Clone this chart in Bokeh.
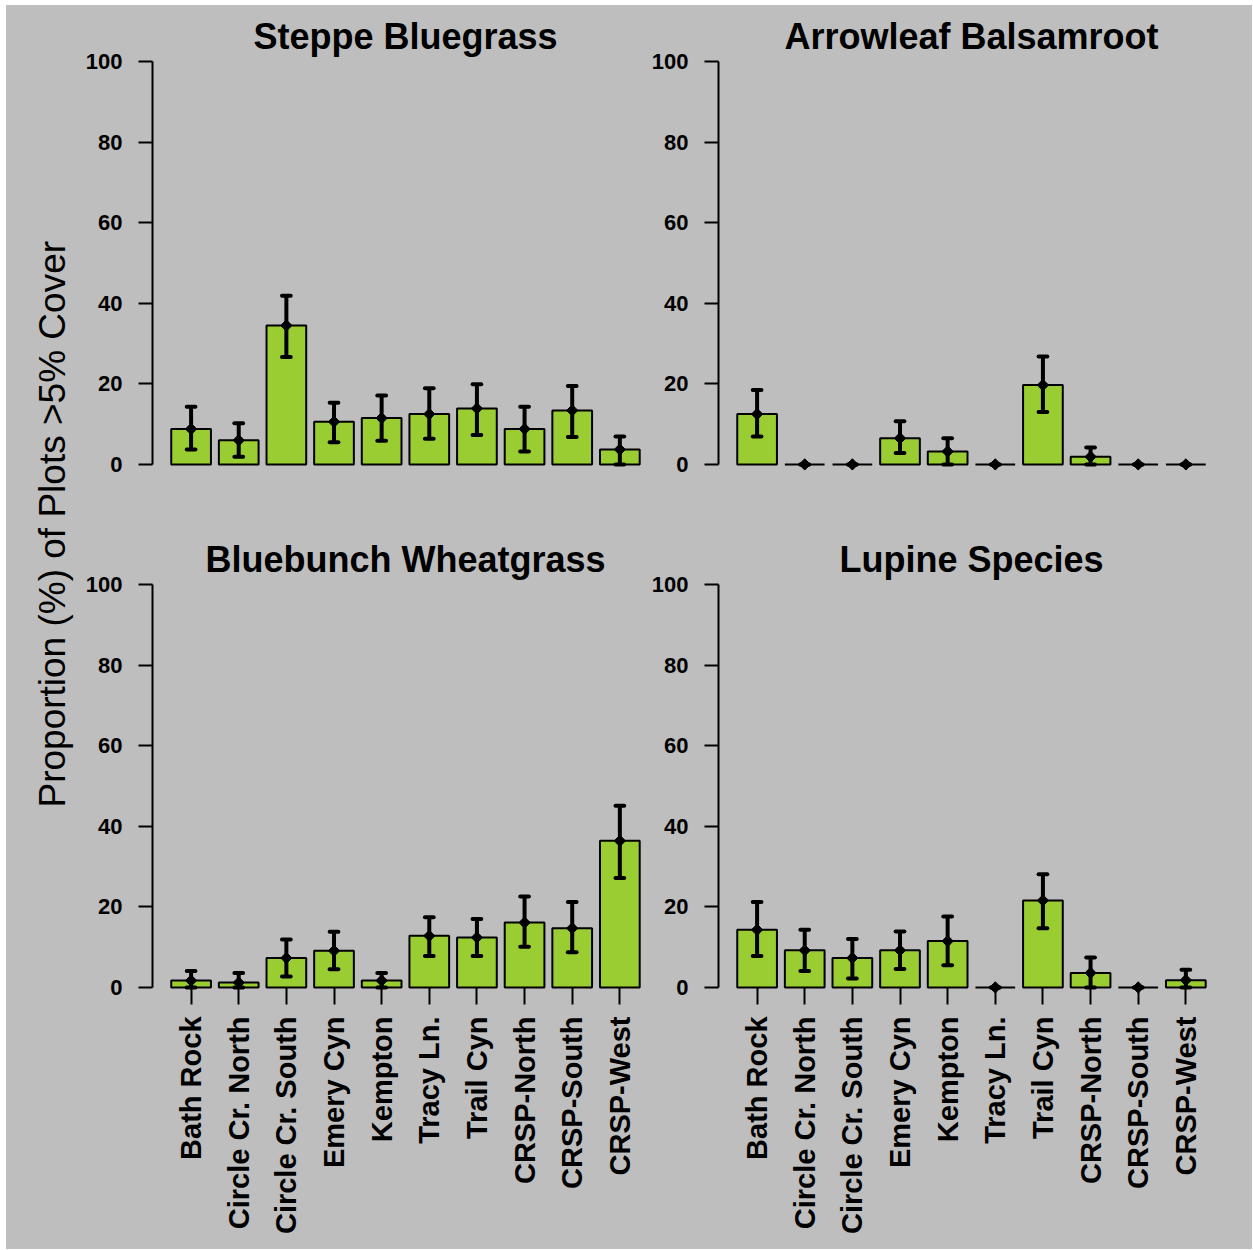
from math import pi

from bokeh.embed import file_html
from bokeh.layouts import column, row
from bokeh.models import (ColumnDataSource, FixedTicker, Label, LinearAxis,
                          Range1d)
from bokeh.plotting import figure
from bokeh.resources import INLINE

# ---------------------------------------------------------------- data
sites = ["Bath Rock", "Circle Cr. North", "Circle Cr. South", "Emery Cyn",
         "Kempton", "Tracy Ln.", "Trail Cyn", "CRSP-North", "CRSP-South",
         "CRSP-West"]

# proportion (%) of plots with >5% cover, with lower / upper interval bounds
bluegrass_mean = [8.8, 6.0, 34.5, 10.6, 11.5, 12.5, 13.9, 8.8, 13.4, 3.7]
bluegrass_lo = [3.7, 1.9, 26.7, 5.5, 5.9, 6.4, 7.3, 3.2, 6.8, 0.0]
bluegrass_hi = [14.3, 10.2, 41.9, 15.3, 17.1, 18.9, 19.9, 14.3, 19.5, 6.9]

balsamroot_mean = [12.5, 0.0, 0.0, 6.5, 3.2, 0.0, 19.7, 1.9, 0.0, 0.0]
balsamroot_lo = [6.9, 0.0, 0.0, 2.8, 0.0, 0.0, 13.0, 0.0, 0.0, 0.0]
balsamroot_hi = [18.5, 0.0, 0.0, 10.7, 6.5, 0.0, 26.8, 4.2, 0.0, 0.0]

wheatgrass_mean = [1.7, 1.2, 7.3, 9.1, 1.7, 12.8, 12.4, 16.1, 14.7, 36.4]
wheatgrass_lo = [0.0, 0.0, 2.7, 4.5, 0.0, 7.8, 7.8, 10.1, 8.7, 27.2]
wheatgrass_hi = [4.1, 3.6, 11.9, 13.8, 3.6, 17.4, 17.0, 22.6, 21.2, 45.1]

lupine_mean = [14.3, 9.2, 7.3, 9.2, 11.5, 0.0, 21.6, 3.6, 0.0, 1.8]
lupine_lo = [7.8, 4.1, 2.2, 4.6, 5.5, 0.0, 14.7, 0.0, 0.0, 0.0]
lupine_hi = [21.2, 14.3, 12.0, 13.9, 17.6, 0.0, 28.1, 7.4, 0.0, 4.4]

y_ticks = [0, 20, 40, 60, 80, 100]

# ---------------------------------------------------------------- style
BG = "#BEBEBE"
BAR = "#9ACD32"
FONT = "Liberation Sans"
BAR_WIDTH = 1.0
BAR_SPACE = 0.2
X_START = -0.272            # left edge of the bar area (4% padding)
PX_PER_X = 39.7
PX_PER_Y = 4.03
Y_LOW, Y_HIGH = -4, 112     # room below zero and above 100 for the title
TITLE_Y = 106.3
CAP_HALF = 0.11

# bar centres, barplot style: width 1 with 0.2 spacing
centers = [BAR_SPACE + BAR_WIDTH / 2 + i * (BAR_WIDTH + BAR_SPACE)
           for i in range(len(sites))]
x_mid = (X_START + (centers[-1] + BAR_WIDTH / 2 + 0.472)) / 2
FRAME_H = round((Y_HIGH - Y_LOW) * PX_PER_Y)


def panel(title, mean, lo, hi, width, height, border_left, border_top,
          show_x):
    frame_width = width - border_left
    x_end = X_START + frame_width / PX_PER_X
    p = figure(width=width, height=height, output_backend="svg",
               toolbar_location=None, x_range=Range1d(X_START, x_end),
               y_range=Range1d(Y_LOW, Y_HIGH), x_axis_location=None,
               y_axis_location=None, min_border_left=border_left,
               min_border_right=0, min_border_top=border_top,
               min_border_bottom=height - border_top - FRAME_H,
               styles={"background-color": BG})
    p.background_fill_color = BG
    p.border_fill_color = BG
    p.outline_line_color = None
    p.xgrid.visible = False
    p.ygrid.visible = False

    yaxis = LinearAxis(ticker=FixedTicker(ticks=y_ticks), bounds=(0, 100))
    yaxis.axis_line_width = 2
    yaxis.major_tick_line_width = 2
    yaxis.major_tick_out = 14
    yaxis.major_tick_in = 0
    yaxis.minor_tick_line_color = None
    yaxis.major_label_standoff = 16
    yaxis.major_label_text_font = FONT
    yaxis.major_label_text_font_style = "bold"
    yaxis.major_label_text_font_size = "22px"
    yaxis.major_label_text_color = "black"
    p.add_layout(yaxis, "left")

    if show_x:
        # ticks run from the zero line down past the frame edge
        xaxis = LinearAxis(ticker=FixedTicker(ticks=centers))
        xaxis.major_label_overrides = {c: s for c, s in zip(centers, sites)}
        xaxis.major_label_orientation = pi / 2
        xaxis.axis_line_color = None
        xaxis.major_tick_line_width = 2
        xaxis.major_tick_in = round(-Y_LOW * PX_PER_Y)
        xaxis.major_tick_out = 1
        xaxis.minor_tick_line_color = None
        xaxis.major_label_standoff = 12
        xaxis.major_label_text_font = FONT
        xaxis.major_label_text_font_style = "bold"
        xaxis.major_label_text_font_size = "29px"
        xaxis.major_label_text_color = "black"
        p.add_layout(xaxis, "below")

    src = ColumnDataSource(dict(
        x=centers, top=mean, lo=lo, hi=hi,
        cl=[c - CAP_HALF for c in centers],
        cr=[c + CAP_HALF for c in centers]))

    p.vbar(x="x", top="top", bottom=0, width=BAR_WIDTH, source=src,
           fill_color=BAR, line_color="black", line_width=2)
    p.segment(x0="x", y0="lo", x1="x", y1="hi", source=src,
              line_color="black", line_width=4)
    p.segment(x0="cl", y0="hi", x1="cr", y1="hi", source=src,
              line_color="black", line_width=4, line_cap="round")
    p.segment(x0="cl", y0="lo", x1="cr", y1="lo", source=src,
              line_color="black", line_width=4, line_cap="round")
    p.scatter(x="x", y="top", source=src, marker="square", angle=pi / 4,
              size=8, fill_color="black", line_color="black")

    p.add_layout(Label(x=x_mid, y=TITLE_Y, text=title, text_align="center",
                       text_baseline="alphabetic", text_font=FONT,
                       text_font_style="bold", text_font_size="36px",
                       text_color="black"))
    return p


LEFT_W, RIGHT_W = 563, 607
TOP_H, BOT_H = 520, 724

p1 = panel("Steppe Bluegrass", bluegrass_mean, bluegrass_lo, bluegrass_hi,
           LEFT_W, TOP_H, 70, 8, False)
p2 = panel("Arrowleaf Balsamroot", balsamroot_mean, balsamroot_lo,
           balsamroot_hi, RIGHT_W, TOP_H, 73, 8, False)
p3 = panel("Bluebunch Wheatgrass", wheatgrass_mean, wheatgrass_lo,
           wheatgrass_hi, LEFT_W, BOT_H, 70, 11, True)
p4 = panel("Lupine Species", lupine_mean, lupine_lo, lupine_hi, RIGHT_W,
           BOT_H, 73, 11, True)

# shared y-axis title in its own narrow strip
ylab = figure(width=76, height=TOP_H + BOT_H, output_backend="svg",
              toolbar_location=None, x_range=Range1d(0, 1),
              y_range=Range1d(0, 1), x_axis_location=None,
              y_axis_location=None, min_border=0,
              styles={"background-color": BG})
ylab.background_fill_color = BG
ylab.border_fill_color = BG
ylab.outline_line_color = None
ylab.xgrid.visible = False
ylab.ygrid.visible = False
ylab.add_layout(Label(x=0.605, y=0.583, text="Proportion (%) of Plots >5% Cover",
                      angle=pi / 2, text_align="center",
                      text_baseline="middle", text_font=FONT,
                      text_font_size="37px", text_color="black"))

panels = column(row(p1, p2, styles={"background-color": BG}),
                row(p3, p4, styles={"background-color": BG}),
                styles={"background-color": BG})
layout = row(ylab, panels, margin=(5, 0, 0, 6),
             styles={"background-color": BG})

with open("out.html", "w") as f:
    f.write(file_html(layout, INLINE))
